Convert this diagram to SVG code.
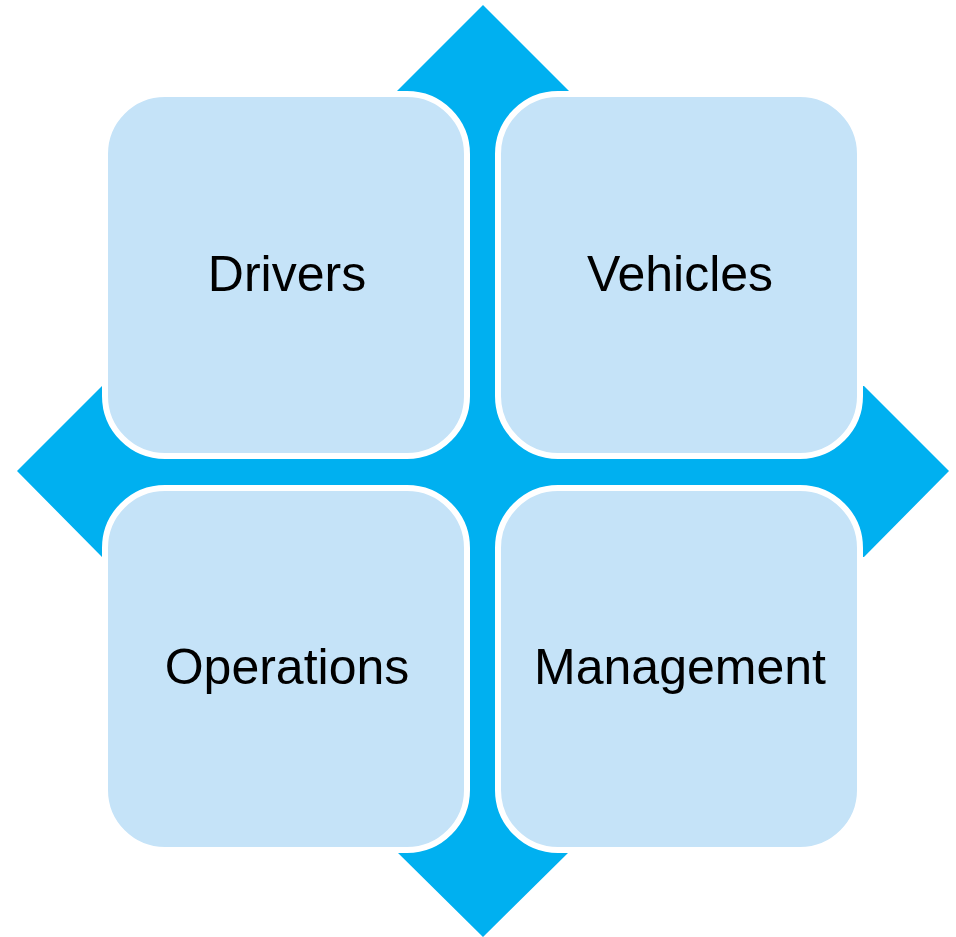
<svg xmlns="http://www.w3.org/2000/svg" width="956" height="937" viewBox="0 0 956 937">
<style>
.box{fill:#C5E3F8;stroke:#FFFFFF;stroke-width:6}
.lbl{font-family:"Liberation Sans",Arial,sans-serif;font-size:50px;fill:#000000;text-anchor:middle}
</style>
<rect width="956" height="937" fill="#FFFFFF"/>
<g id="connectors">
<polygon id="quad-arrow" fill="#00B0F0" points="483,5 569,91 569,386 864,386 949,471 864,557 569,557 569,852 483,937 397,852 397,557 102,557 17,471 102,386 397,386 397,91"/>
</g>
<g id="drivers">
<rect class="box" x="105" y="94" width="362" height="362" rx="60" ry="60"/>
<text class="lbl" x="287" y="291">Drivers</text>
</g>
<g id="vehicles">
<rect class="box" x="498" y="94" width="362" height="362" rx="60" ry="60"/>
<text class="lbl" x="680" y="291">Vehicles</text>
</g>
<g id="operations">
<rect class="box" x="105" y="488" width="362" height="362" rx="60" ry="60"/>
<text class="lbl" x="287" y="684">Operations</text>
</g>
<g id="management">
<rect class="box" x="498" y="488" width="362" height="362" rx="60" ry="60"/>
<text class="lbl" x="680" y="684">Management</text>
</g>
</svg>
